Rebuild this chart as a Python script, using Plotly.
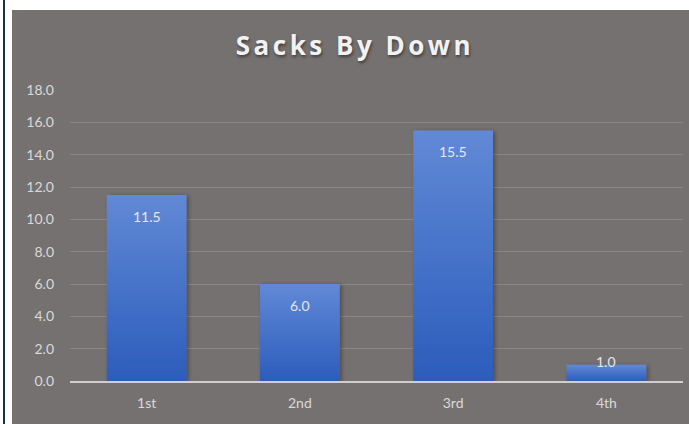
import plotly.graph_objects as go

downs = ["1st", "2nd", "3rd", "4th"]
sacks = [11.5, 6.0, 15.5, 1.0]

W, H = 689, 424
ml, mr, mt, mb = 70, 6, 90, 43
pw, ph = W - ml - mr, H - mt - mb

def px_x(x):
    return (x - ml) / pw

def px_y(y):
    return 1 - (y - mt) / ph

bg = "#767171"
fnt = "Lato, Open Sans, sans-serif"
fig = go.Figure(go.Bar(
    x=downs, y=sacks, width=0.52,
    marker=dict(color="#4674c8", line=dict(width=0)),
    hoverinfo="x+y",
))

annotations = []
for d, v in zip(downs, sacks):
    annotations.append(dict(
        x=d, y=v, xref="x", yref="y", text=f"{v:.1f}", showarrow=False,
        yanchor="middle", yshift=(-21 if v >= 3 else 3),
        font=dict(family=fnt, size=14, color="#e6e6e6"),
    ))

fig.update_layout(
    width=W, height=H,
    margin=dict(l=ml, r=mr, t=mt, b=mb),
    paper_bgcolor=bg, plot_bgcolor=bg,
    title=dict(text="<b>Sacks By Down</b>", x=355 / W, xanchor="center",
               y=1 - 46 / H, yanchor="middle",
               font=dict(family="Open Sans, sans-serif", size=26, color="#f2f2f2",
                         shadow="1px 2px 3px rgba(0,0,0,0.45)")),
    showlegend=False,
    font=dict(family=fnt, color="#d9d9d9", size=14),
    annotations=annotations,
    xaxis=dict(showgrid=False, showline=True, linecolor="#d0cece", linewidth=2,
               ticks="", ticklabelstandoff=8,
               tickfont=dict(size=14, color="#d9d9d9")),
    yaxis=dict(range=[0, 18], dtick=2, tickformat=".1f", showgrid=True,
               gridcolor="#8a8684", gridwidth=1, zeroline=False, showline=False,
               ticks="", ticklabelstandoff=15,
               tickfont=dict(size=14, color="#d9d9d9")),
    shapes=[
        dict(type="rect", xref="paper", yref="paper", x0=px_x(-5), x1=px_x(12),
             y0=px_y(H + 5), y1=px_y(-5), fillcolor="white", line=dict(width=0)),
        dict(type="rect", xref="paper", yref="paper", x0=px_x(-5), x1=px_x(W + 5),
             y0=px_y(10), y1=px_y(-5), fillcolor="white", line=dict(width=0)),
        dict(type="rect", xref="paper", yref="paper", x0=px_x(3), x1=px_x(5),
             y0=px_y(H + 5), y1=px_y(0), fillcolor="#1f2d4d", line=dict(width=0)),
    ],
)

post = """
document.body.style.margin='0';
document.body.style.overflow='hidden';
var t=document.querySelectorAll('.gtitle');
t.forEach(function(e){e.style.letterSpacing='3.5px';});
var svg=document.querySelector('svg.main-svg');
var ns='http://www.w3.org/2000/svg';
var defs=svg.querySelector('defs')||svg.insertBefore(document.createElementNS(ns,'defs'),svg.firstChild);
var g=document.createElementNS(ns,'linearGradient');
g.setAttribute('id','barGrad');g.setAttribute('x1','0');g.setAttribute('y1','0');
g.setAttribute('x2','0');g.setAttribute('y2','1');
[['0','#6189d6'],['1','#2c5cbb']].forEach(function(s){
  var st=document.createElementNS(ns,'stop');st.setAttribute('offset',s[0]);
  st.setAttribute('stop-color',s[1]);g.appendChild(st);});
defs.appendChild(g);
var f=document.createElementNS(ns,'filter');
f.setAttribute('id','barShadow');f.setAttribute('x','-20%');f.setAttribute('y','-20%');
f.setAttribute('width','150%');f.setAttribute('height','140%');
f.innerHTML='<feDropShadow dx="2" dy="1" stdDeviation="2" flood-color="#000" flood-opacity="0.35"/>';
defs.appendChild(f);
document.querySelectorAll('.barlayer .point path').forEach(function(p){
  p.style.fill='url(#barGrad)';p.style.filter='url(#barShadow)';});
"""
fig.write_html("out.html", post_script=post, config={"displayModeBar": False})
